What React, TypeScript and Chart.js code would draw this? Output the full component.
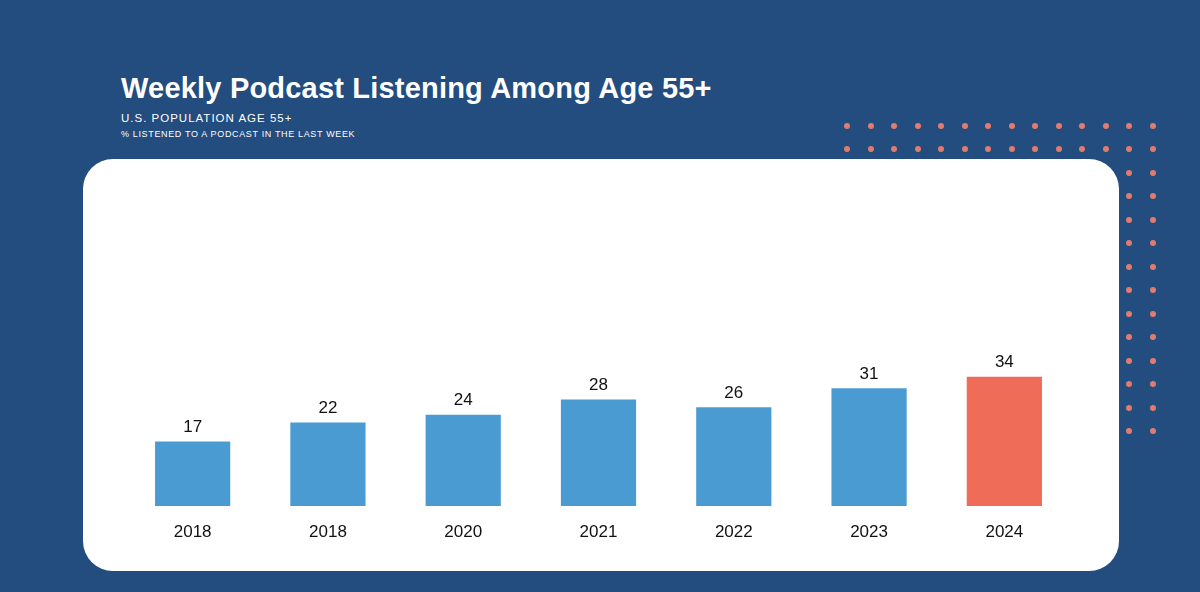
import React, { useEffect, useRef } from "react";
import { Chart, registerables } from "chart.js";

Chart.register(...registerables);

const categories = ["2018", "2018", "2020", "2021", "2022", "2023", "2024"];
const values = [17, 22, 24, 28, 26, 31, 34];
const barColors = ["#4B9BD3", "#4B9BD3", "#4B9BD3", "#4B9BD3", "#4B9BD3", "#4B9BD3", "#EE6C58"];
const titleText = "Weekly Podcast Listening Among Age 55+";
const subtitle1 = "U.S. POPULATION AGE 55+";
const subtitle2 = "% LISTENED TO A PODCAST IN THE LAST WEEK";

const BG = "#234C7F";
const DOT = "#E07B6E";
const FONT = "'Liberation Sans', Arial, sans-serif";

const valueLabels = {
  id: "valueLabels",
  afterDatasetsDraw(chart: any) {
    const ctx = chart.ctx;
    const meta = chart.getDatasetMeta(0);
    ctx.save();
    ctx.font = `17px ${FONT}`;
    ctx.fillStyle = "#111111";
    ctx.textAlign = "center";
    ctx.textBaseline = "alphabetic";
    meta.data.forEach((bar: any, i: number) => {
      ctx.fillText(String(chart.data.datasets[0].data[i]), bar.x, bar.y - 9.5);
    });
    ctx.restore();
  },
};

function Dots() {
  const items: React.ReactNode[] = [];
  for (let c = 0; c < 14; c++) {
    const rows = c >= 12 ? 14 : 2;
    for (let r = 0; r < rows; r++) {
      items.push(
        <div
          key={`${c}-${r}`}
          style={{
            position: "absolute",
            left: 847 + c * 23.5 - 3,
            top: 125.5 + r * 23.5 - 3,
            width: 6,
            height: 6,
            borderRadius: "50%",
            background: DOT,
          }}
        />
      );
    }
  }
  return <>{items}</>;
}

export default function App() {
  const canvasRef = useRef<HTMLCanvasElement | null>(null);

  useEffect(() => {
    document.body.style.margin = "0";
    const chart = new Chart(canvasRef.current as HTMLCanvasElement, {
      type: "bar",
      data: {
        labels: categories,
        datasets: [
          {
            data: values,
            backgroundColor: barColors,
            borderWidth: 0,
            categoryPercentage: 1,
            barPercentage: 0.556,
          },
        ],
      },
      options: {
        animation: false,
        responsive: false,
        devicePixelRatio: 1,
        layout: { padding: { left: 42, right: 47, top: 43, bottom: 11.6 } },
        plugins: { legend: { display: false }, tooltip: { enabled: false }, title: { display: false } },
        scales: {
          x: {
            grid: { display: false, drawTicks: false },
            border: { display: false },
            ticks: { color: "#111111", font: { family: FONT, size: 17 }, padding: 16.5 },
          },
          y: { display: false, min: 0, max: 80 },
        },
      },
      plugins: [valueLabels],
    });
    return () => chart.destroy();
  }, []);

  return (
    <div style={{ position: "absolute", left: 0, top: 0, width: 1200, height: 592, background: BG, overflow: "hidden", fontFamily: FONT }}>
      <div style={{ position: "absolute", left: 121, top: 71, color: "#fff", fontWeight: "bold", fontSize: 29, letterSpacing: 0.2, whiteSpace: "nowrap", lineHeight: "34px" }}>
        {titleText}
      </div>
      <div style={{ position: "absolute", left: 121, top: 111, color: "#fff", fontSize: 11.5, letterSpacing: 1, whiteSpace: "nowrap", lineHeight: "14px" }}>
        {subtitle1}
      </div>
      <div style={{ position: "absolute", left: 121, top: 128, color: "#fff", fontSize: 9, letterSpacing: 0.65, whiteSpace: "nowrap", lineHeight: "12px" }}>
        {subtitle2}
      </div>
      <Dots />
      <div style={{ position: "absolute", left: 83, top: 159, width: 1036, height: 412, background: "#fff", borderRadius: 30 }} />
      <canvas ref={canvasRef} width={1036} height={412} style={{ position: "absolute", left: 83, top: 159, width: 1036, height: 412 }} />
    </div>
  );
}
